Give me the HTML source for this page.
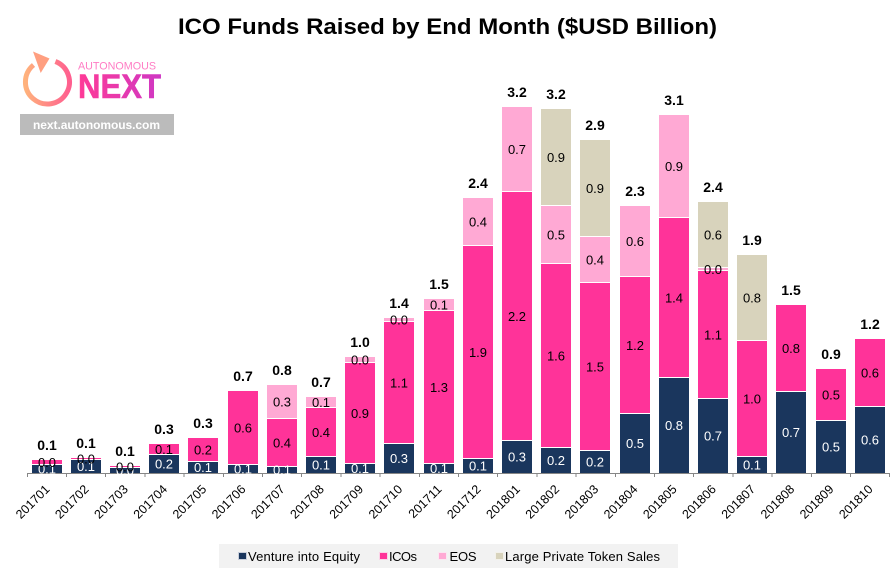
<!DOCTYPE html>
<html lang="en">
<head>
<meta charset="utf-8">
<title>ICO Funds Raised by End Month</title>
<style>
html,body{margin:0;padding:0;background:#fff;}
body{width:896px;height:576px;overflow:hidden;font-family:"Liberation Sans",Arial,sans-serif;}
svg{display:block;}
text{font-family:"Liberation Sans",Arial,sans-serif;}
</style>
</head>
<body>
<svg id="chart" width="896" height="576" viewBox="0 0 896 576" xmlns="http://www.w3.org/2000/svg">
  <defs>
    <linearGradient id="arcGrad" x1="0" y1="0" x2="1" y2="0">
      <stop offset="0" stop-color="#ffb27c"/>
      <stop offset="1" stop-color="#ff5f8f"/>
    </linearGradient>
    <linearGradient id="nextGrad" gradientUnits="userSpaceOnUse" x1="78" y1="0" x2="161" y2="0">
      <stop offset="0" stop-color="#ff3a96"/>
      <stop offset="1" stop-color="#cf38c4"/>
    </linearGradient>
  </defs>
  <rect x="0" y="0" width="896" height="576" fill="#ffffff"/>
  <text x="178" y="34" font-size="22.5" font-weight="bold" fill="#000" textLength="539" lengthAdjust="spacingAndGlyphs">ICO Funds Raised by End Month ($USD Billion)</text>

  <g>
    <path d="M55.4 61.5 A22 22 0 1 1 33.5 65" fill="none" stroke="url(#arcGrad)" stroke-width="5"/>
    <polygon points="33,51.5 49.5,58.5 40.7,73" fill="#ff9f80"/>
    <text x="78" y="69.5" font-size="11" fill="#ff7cc4" textLength="78" lengthAdjust="spacingAndGlyphs">AUTONOMOUS</text>
    <text x="78" y="98" font-size="34.5" font-weight="bold" fill="url(#nextGrad)" stroke="url(#nextGrad)" stroke-width="0.6" textLength="83" lengthAdjust="spacingAndGlyphs">NEXT</text>
  </g>
  <rect x="20" y="114" width="154" height="21" fill="#bbbbbb"/>
  <text x="33" y="129" font-size="12" font-weight="bold" fill="#ffffff" textLength="127">next.autonomous.com</text>

  <g id="bars"></g>
  <g id="axis"></g>
  <g id="labels"></g>

  <g>
    <rect x="219" y="544" width="459" height="24" fill="#f2f2f2"/>
    <g>
      <rect x="238" y="552" width="9" height="8" fill="#c9cfdb" shape-rendering="crispEdges"/>
      <rect x="239" y="553" width="7" height="6" fill="#1a365d" shape-rendering="crispEdges"/>
      <text x="248" y="561" font-size="13" fill="#000" textLength="112">Venture into Equity</text>
    </g>
    <g>
      <rect x="379" y="552" width="9" height="8" fill="#fbd3e8" shape-rendering="crispEdges"/>
      <rect x="380" y="553" width="7" height="6" fill="#ff3399" shape-rendering="crispEdges"/>
      <text x="389" y="561" font-size="13" fill="#000" textLength="28">ICOs</text>
    </g>
    <g>
      <rect x="438" y="552" width="9" height="8" fill="#fbe6f1" shape-rendering="crispEdges"/>
      <rect x="439" y="553" width="7" height="6" fill="#ffa9d4" shape-rendering="crispEdges"/>
      <text x="449.5" y="561" font-size="13" fill="#000" textLength="27">EOS</text>
    </g>
    <g>
      <rect x="495" y="552" width="9" height="8" fill="#f3f1ea" shape-rendering="crispEdges"/>
      <rect x="496" y="553" width="7" height="6" fill="#d8d3bc" shape-rendering="crispEdges"/>
      <text x="505" y="561" font-size="13" fill="#000" textLength="155">Large Private Token Sales</text>
    </g>
  </g>
</svg>
<script>
const categories = ["201701","201702","201703","201704","201705","201706","201707","201708","201709","201710","201711","201712","201801","201802","201803","201804","201805","201806","201807","201808","201809","201810"];
const ventureValues = [0.07,0.114,0.046,0.155,0.096,0.07,0.052,0.143,0.082,0.257,0.082,0.125,0.283,0.222,0.196,0.52,0.836,0.652,0.143,0.713,0.459,0.582];
const icoValues = [0.048,0.018,0.015,0.097,0.21,0.649,0.418,0.43,0.886,1.07,1.342,1.868,2.184,1.614,1.471,1.196,1.398,1.123,1.018,0.761,0.454,0.594];
const eosValues = [null,null,null,null,null,null,0.298,0.096,0.048,0.032,0.103,0.418,0.743,0.509,0.401,0.625,0.906,0.024,null,null,null,null];
const largePrivateValues = [null,null,null,null,null,null,null,null,null,null,null,null,null,0.852,0.854,null,null,0.576,0.752,null,null,null];

const seriesNames = ["venture","icos","eos","large-private"];
const seriesValues = [ventureValues, icoValues, eosValues, largePrivateValues];
const seriesColors = ["#1a365d","#ff3399","#ffa9d4","#d8d3bc"];
const labelColors = ["#ffffff","#000000","#000000","#000000"];

const NS = "http://www.w3.org/2000/svg";
const baselineY = 473;
const pxPerUnit = 114;
const axisLeft = 27.3;
const stepX = 39.2;
const barWidth = 30;

function yScale(v){ return baselineY - v * pxPerUnit; }
function xCenter(i){ return axisLeft + stepX * (i + 0.5); }

const barsG = document.getElementById("bars");
const axisG = document.getElementById("axis");
const labelsG = document.getElementById("labels");

categories.forEach(function(cat, i){
  let cum = 0;
  const left = Math.floor(xCenter(i) - barWidth / 2 + 0.1);
  const barCenter = left + barWidth / 2;
  seriesValues.forEach(function(vals, s){
    const v = vals[i];
    if (v === null) return;
    const bottom = Math.round(yScale(cum));
    const top = Math.round(yScale(cum + v));
    const r = document.createElementNS(NS, "rect");
    
    
    r.setAttribute("class", "seg-" + seriesNames[s] + " cat-" + cat);
    r.setAttribute("x", left);
    r.setAttribute("y", top);
    r.setAttribute("width", barWidth);
    const lowerGap = cum > 0 ? 1 : 0;
    r.setAttribute("height", Math.max(1, bottom - top - lowerGap));
    r.setAttribute("fill", seriesColors[s]);
    r.setAttribute("shape-rendering", "crispEdges");
    barsG.appendChild(r);

    const t = document.createElementNS(NS, "text");
    
    
    t.setAttribute("x", barCenter);
    t.setAttribute("y", (top + bottom) / 2 + 4.5);
    t.setAttribute("text-anchor", "middle");
    t.setAttribute("font-size", "13");
    t.setAttribute("fill", labelColors[s]);
    t.textContent = v.toFixed(1);
    labelsG.appendChild(t);
    cum += v;
  });

  const tot = document.createElementNS(NS, "text");
  
  
  tot.setAttribute("x", barCenter);
  tot.setAttribute("y", Math.round(yScale(cum)) - 10);
  tot.setAttribute("text-anchor", "middle");
  tot.setAttribute("font-size", "14");
  tot.setAttribute("font-weight", "bold");
  tot.setAttribute("fill", "#000000");
  tot.textContent = cum.toFixed(1);
  labelsG.appendChild(tot);

  const lab = document.createElementNS(NS, "text");
  const lx = xCenter(i) + 3.5;
  const ly = 490;
  
  
  lab.setAttribute("x", lx);
  lab.setAttribute("y", ly);
  lab.setAttribute("text-anchor", "end");
  lab.setAttribute("font-size", "12.5");
  lab.setAttribute("fill", "#000000");
  lab.setAttribute("transform", "rotate(-45 " + lx + " " + ly + ")");
  lab.textContent = cat;
  axisG.appendChild(lab);
});

const axisLine = document.createElementNS(NS, "line");


axisLine.setAttribute("x1", axisLeft);
axisLine.setAttribute("x2", axisLeft + stepX * categories.length);
axisLine.setAttribute("y1", baselineY + 0.5);
axisLine.setAttribute("y2", baselineY + 0.5);
axisLine.setAttribute("stroke", "#868686");
axisLine.setAttribute("stroke-width", "1");
axisLine.setAttribute("shape-rendering", "crispEdges");
axisG.appendChild(axisLine);

for (let i = 0; i <= categories.length; i++) {
  const tick = document.createElementNS(NS, "line");
  const tx = axisLeft + stepX * i;
  
  
  tick.setAttribute("x1", tx);
  tick.setAttribute("x2", tx);
  tick.setAttribute("y1", baselineY);
  tick.setAttribute("y2", baselineY + 4);
  tick.setAttribute("stroke", "#868686");
  tick.setAttribute("stroke-width", "1");
  tick.setAttribute("shape-rendering", "crispEdges");
  axisG.appendChild(tick);
}
</script>
</body>
</html>
